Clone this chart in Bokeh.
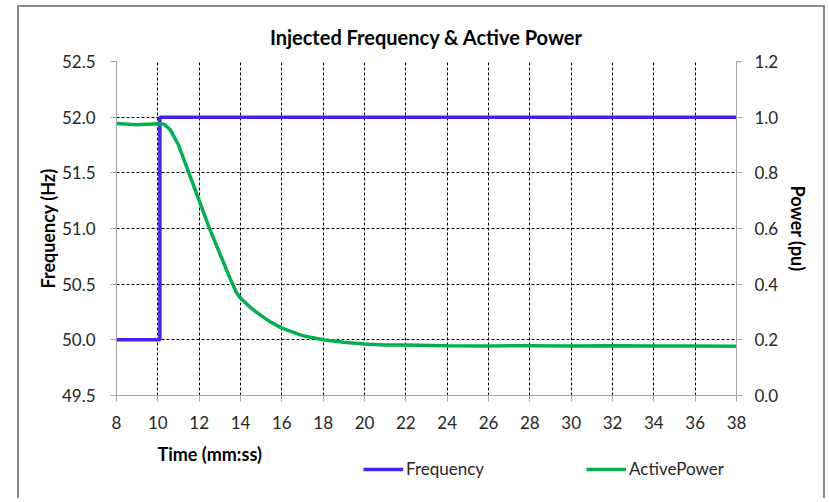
from bokeh.plotting import figure
from bokeh.layouts import column
from bokeh.models import (Range1d, LinearAxis, FixedTicker, NumeralTickFormatter,
                          Legend, LegendItem, Label)
from bokeh.embed import file_html
from bokeh.resources import INLINE

# ---- data ----
freq_time = [8, 10.1, 10.1, 38]
freq_hz = [50.0, 50.0, 52.0, 52.0]

power_time = [8, 9, 10, 10.3, 10.6, 11, 11.5, 12, 12.5, 13, 13.5, 13.8, 14, 14.5,
              15, 15.5, 16, 17, 18, 19, 20, 21, 22, 24, 26, 28, 30, 32, 34, 36, 38]
power_pu = [0.977, 0.973, 0.976, 0.975, 0.955, 0.90, 0.80, 0.70, 0.60, 0.51, 0.42,
            0.37, 0.35, 0.315, 0.287, 0.262, 0.242, 0.215, 0.200, 0.191, 0.185,
            0.181, 0.181, 0.179, 0.178, 0.179, 0.178, 0.179, 0.178, 0.178, 0.177]

x_ticks = list(range(8, 39, 2))
freq_ticks = [49.5, 50.0, 50.5, 51.0, 51.5, 52.0, 52.5]
power_ticks = [0.0, 0.2, 0.4, 0.6, 0.8, 1.0, 1.2]

title_text = "Injected Frequency & Active Power"
x_label = "Time (mm:ss)"
y_label = "Frequency (Hz)"
y2_label = "Power (pu)"
series_names = ["Frequency", "ActivePower"]

FONT = "Lato"
BLUE = "#4423f5"
GREEN = "#00b050"
AXIS_GRAY = "#a6a6a6"
BORDER = "#8a8a8a"
LINE_W = 3.5

# ---------------- main chart ----------------
p = figure(output_backend="svg", toolbar_location=None,
           frame_width=620, frame_height=334,
           min_border_left=116, min_border_right=93,
           min_border_top=61, min_border_bottom=45,
           x_range=Range1d(8, 38), y_range=Range1d(49.5, 52.5))
p.outline_line_color = None
p.background_fill_color = "white"
p.border_fill_color = None

p.title.text = title_text
p.title.align = "center"
p.title.text_font = FONT
p.title.text_font_size = "20px"
p.title.text_font_style = "bold"
p.title.text_color = "#000000"
p.title.standoff = 26

p.extra_y_ranges = {"pu": Range1d(0, 1.2)}
ax2 = LinearAxis(y_range_name="pu")
p.add_layout(ax2, "right")

for ax in [p.xaxis[0], p.yaxis[0], ax2]:
    ax.axis_line_color = AXIS_GRAY
    ax.axis_line_width = 1
    ax.major_tick_line_color = AXIS_GRAY
    ax.major_tick_in = 0
    ax.major_tick_out = 6
    ax.minor_tick_line_color = None
    ax.major_label_text_font = FONT
    ax.major_label_text_font_size = "17px"
    ax.major_label_text_color = "#262626"
    ax.axis_label_text_font = FONT
    ax.axis_label_text_font_size = "18px"
    ax.axis_label_text_font_style = "bold"
    ax.axis_label_text_color = "#000000"

p.xaxis[0].ticker = FixedTicker(ticks=x_ticks)
p.xaxis[0].major_label_standoff = 14
p.yaxis[0].ticker = FixedTicker(ticks=freq_ticks)
p.yaxis[0].formatter = NumeralTickFormatter(format="0.0")
p.yaxis[0].axis_label = y_label
p.yaxis[0].major_label_standoff = 15
p.yaxis[0].axis_label_standoff = 0
ax2.ticker = FixedTicker(ticks=power_ticks)
ax2.formatter = NumeralTickFormatter(format="0.0")
ax2.axis_label = y2_label
ax2.major_label_standoff = 12
ax2.axis_label_standoff = 6
ax2.axis_label_orientation = "vertical"

p.xgrid.ticker = FixedTicker(ticks=x_ticks[1:-1])
p.ygrid.ticker = FixedTicker(ticks=freq_ticks[1:])
for g in [p.xgrid[0], p.ygrid[0]]:
    g.grid_line_color = "black"
    g.grid_line_dash = "3 2"
    g.grid_line_width = 1

p.line(freq_time, freq_hz, line_color=BLUE, line_width=LINE_W)
p.line(power_time, power_pu, line_color=GREEN, line_width=LINE_W,
       y_range_name="pu")

# ---------------- footer: x label + legend ----------------
f = figure(output_backend="svg", toolbar_location=None,
           frame_width=620, frame_height=58,
           min_border_left=116, min_border_right=93,
           min_border_top=0, min_border_bottom=0,
           x_range=Range1d(8, 38), y_range=Range1d(-3, -2),
           x_axis_type=None, y_axis_type=None)
f.outline_line_color = None
f.background_fill_color = None
f.border_fill_color = None
f.grid.visible = False

# series drawn again only to supply the legend swatches (outside the visible range)
lf = f.line(freq_time, freq_hz, line_color=BLUE, line_width=LINE_W)
lp = f.line(power_time, power_pu, line_color=GREEN, line_width=LINE_W)

xl = Label(x=41, y=45, x_units="screen", y_units="screen", text=x_label,
           text_font=FONT, text_font_size="18px", text_font_style="bold",
           text_color="#000000", text_baseline="middle")
f.add_layout(xl)

legend = Legend(items=[LegendItem(label=series_names[0], renderers=[lf]),
                       LegendItem(label=series_names[1], renderers=[lp])],
                orientation="horizontal", location=(247, 19),
                glyph_width=40, glyph_height=18, label_standoff=3, spacing=102,
                padding=0, margin=0, border_line_color=None,
                background_fill_alpha=0,
                label_text_font=FONT, label_text_font_size="17px",
                label_text_color="#262626")
f.add_layout(legend, "center")

page = column(p, f, spacing=0, styles={
    "background-color": "white",
    "background-image": ("linear-gradient(%s,%s), linear-gradient(%s,%s), "
                         "linear-gradient(%s,%s)") % ((BORDER,) * 6),
    "background-size": "2px 100%, 808px 2px, 2px 100%",
    "background-position": "17px 5px, 17px 5px, 823px 5px",
    "background-repeat": "no-repeat",
})

open("out.html", "w").write(file_html(page, INLINE))
